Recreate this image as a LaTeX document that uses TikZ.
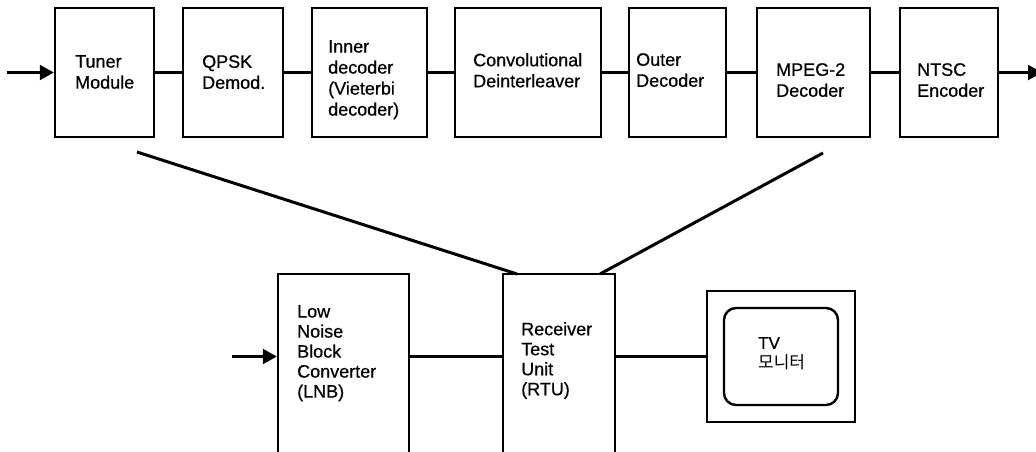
\documentclass[tikz,border=0pt]{standalone}
\usepackage{fontspec}
\setmainfont{Liberation Sans}[FakeBold=0.6]
\newfontfamily\krfont{Noto Sans CJK KR}
\usetikzlibrary{arrows.meta}
\begin{document}
\begin{tikzpicture}[x=1pt,y=-1pt,
  box/.style={draw,line width=2.4pt,inner sep=0pt},
  lbl/.style={anchor=north west,inner sep=0pt,align=left,font=\fontsize{18}{21}\selectfont},
  lblb/.style={anchor=north west,inner sep=0pt,align=left,font=\fontsize{18}{20}\selectfont},
  wire/.style={line width=2.2pt},
  diag/.style={line width=3pt},
  arr/.style={line width=2.2pt,-{Triangle[length=14pt,width=15pt]}}]
\clip (0,0) rectangle (1036,451);
\fill[white] (0,0) rectangle (1036,451);
% top row
\node[box,minimum width=99pt,minimum height=129pt] (tuner) at (104.5,72.5) {};
\node[box,minimum width=100pt,minimum height=129pt] (qpsk) at (233,72.5) {};
\node[box,minimum width=115pt,minimum height=129pt] (inner) at (369.5,72.5) {};
\node[box,minimum width=146pt,minimum height=129pt] (conv) at (528,72.5) {};
\node[box,minimum width=97pt,minimum height=129pt] (outer) at (677.5,72.5) {};
\node[box,minimum width=113pt,minimum height=129pt] (mpeg) at (813.5,72.5) {};
\node[box,minimum width=98pt,minimum height=129pt] (ntsc) at (949,72.5) {};
\node[lbl] (t1) at (75,55) {Tuner\\Module};
\node[lbl] (t2) at (202,55) {QPSK\\Demod.};
\node[lbl] (t3) at (328,40) {Inner\\decoder\\(Vieterbi\\decoder)};
\node[lbl] (t4) at (473,53) {Convolutional\\Deinterleaver};
\node[lbl] (t5) at (636,53) {Outer\\Decoder};
\node[lbl] (t6) at (776,63) {MPEG-2\\Decoder};
\node[lbl] (t7) at (917,63) {NTSC\\Encoder};
\draw[wire] (tuner.east) -- (qpsk.west);
\draw[wire] (qpsk.east) -- (inner.west);
\draw[wire] (inner.east) -- (conv.west);
\draw[wire] (conv.east) -- (outer.west);
\draw[wire] (outer.east) -- (mpeg.west);
\draw[wire] (mpeg.east) -- (ntsc.west);
\coordinate (in1) at (7,72.5);
\coordinate (out1) at (1042,72.5);
\draw[arr] (in1) -- (tuner.west);
\draw[arr] (ntsc.east) -- (out1);
% bottom row
\node[box,minimum width=131pt,minimum height=196pt] (lnb) at (343.5,372) {};
\node[box,minimum width=112pt,minimum height=196pt] (rtu) at (559,372) {};
\node[box,minimum width=148pt,minimum height=131pt] (tv) at (781,356.5) {};
\node[box,minimum width=114pt,minimum height=97pt,rounded corners=12pt] (scr) at (781,356.5) {};
\node[lblb] (t8) at (297,305) {Low\\Noise\\Block\\Converter\\(LNB)};
\node[lblb] (t9) at (521,322) {Receiver\\Test\\Unit\\(RTU)};
\node[anchor=north west,inner sep=0pt,align=left,font=\fontsize{17}{20}\selectfont] (t10) at (758,337) {TV\\{\krfont 모니터}};
\draw[wire] (lnb.east |- tv.west) -- (rtu.west |- tv.west);
\draw[wire] (rtu.east |- tv.west) -- (tv.west);
\coordinate (in2) at (232,356.5);
\draw[arr] (in2) -- (lnb.west |- in2);
% diagonal links
\coordinate (d1) at (137,152);
\coordinate (d2) at (823,153);
\coordinate (r1) at (517,274);
\coordinate (r2) at (600,274);
\draw[diag] (d1) -- (r1);
\draw[diag] (d2) -- (r2);
\end{tikzpicture}
\end{document}
